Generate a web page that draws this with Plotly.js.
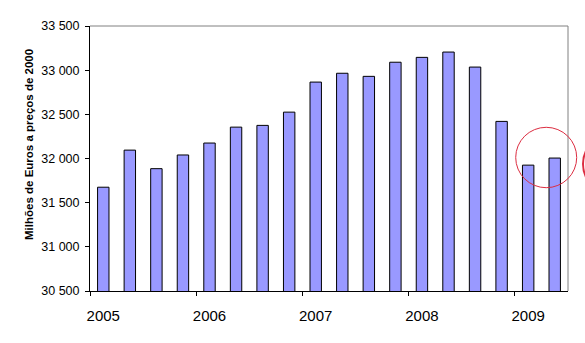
<!DOCTYPE html>
<html>
<head>
<meta charset="utf-8">
<script src="https://cdn.plot.ly/plotly-3.0.1.min.js"></script>
<style>html,body{margin:0;padding:0;background:#fff;}#chart{width:585px;height:343px;}</style>
</head>
<body>
<div id="chart"></div>
<script>
// Quarterly values, 2005 Q1 .. 2009 Q2 (millions of euros, 2000 prices)
var quarters = ["2005T1","2005T2","2005T3","2005T4","2006T1","2006T2","2006T3","2006T4",
                "2007T1","2007T2","2007T3","2007T4","2008T1","2008T2","2008T3","2008T4",
                "2009T1","2009T2"];
var values = [31675, 32095, 31885, 32040, 32175, 32355, 32375, 32525,
              32865, 32965, 32930, 33090, 33145, 33205, 33035, 32420,
              31925, 32005];
var yearLabels = ["2005","2006","2007","2008","2009"];
var yTickVals = [30500, 31000, 31500, 32000, 32500, 33000, 33500];
var yTickText = ["30 500","31 000","31 500","32 000","32 500","33 000","33 500"];

var idx = quarters.map(function(q, i){ return i; });
var yearLabelPos = idx.filter(function(i){ return i % 4 === 0; });
var yearBoundaries = yearLabelPos.map(function(i){ return i - 0.5; });

var font = "Liberation Sans, Arial, sans-serif";

var data = [
  {
    type: "bar",
    x: idx,
    y: values,
    hovertext: quarters,
    hoverinfo: "text+y",
    textposition: "none",
    width: 0.43,
    marker: {color: "#9999ff", line: {color: "#000000", width: 1}},
    showlegend: false
  },
  {
    type: "scatter",
    mode: "markers",
    x: [yearBoundaries[0]],
    y: [null],
    xaxis: "x2",
    yaxis: "y",
    hoverinfo: "skip",
    showlegend: false
  }
];

var layout = {
  width: 585,
  height: 343,
  margin: {l: 90, r: 17, t: 26, b: 52, pad: 0},
  paper_bgcolor: "#ffffff",
  plot_bgcolor: "#ffffff",
  font: {family: font, color: "#000000"},
  xaxis: {
    range: [-0.5, quarters.length - 0.5],
    tickmode: "array",
    tickvals: yearLabelPos,
    ticktext: yearLabels,
    ticks: "",
    ticklabelstandoff: 11,
    showgrid: false,
    zeroline: false,
    showline: true,
    linecolor: "#000000",
    linewidth: 1,
    tickfont: {size: 15, family: font, color: "#000000"},
    fixedrange: true
  },
  xaxis2: {
    overlaying: "x",
    anchor: "y",
    side: "bottom",
    range: [-0.5, quarters.length - 0.5],
    tickmode: "array",
    tickvals: yearBoundaries,
    showticklabels: false,
    ticks: "outside",
    ticklen: 4,
    tickcolor: "#000000",
    tickwidth: 1,
    showgrid: false,
    zeroline: false,
    showline: false,
    fixedrange: true
  },
  yaxis: {
    range: [30500, 33500],
    tickmode: "array",
    tickvals: yTickVals,
    ticktext: yTickText,
    ticks: "outside",
    ticklen: 4,
    ticklabelstandoff: 3,
    tickcolor: "#000000",
    showgrid: false,
    zeroline: false,
    showline: true,
    linecolor: "#000000",
    linewidth: 1,
    tickfont: {size: 12.5, family: font, color: "#000000"},
    fixedrange: true
  },
  annotations: [
    {
      text: "<b>Milhões de Euros a preços de 2000</b>",
      xref: "paper", yref: "paper",
      x: -0.1276, y: 0.551,
      xanchor: "center", yanchor: "middle",
      textangle: -90,
      showarrow: false,
      font: {size: 11.5, family: font, color: "#000000"}
    }
  ],
  shapes: [
    {type: "line", xref: "paper", yref: "paper", x0: 0, x1: 1, y0: 1, y1: 1,
     line: {color: "#808080", width: 1}},
    {type: "line", xref: "paper", yref: "paper", x0: 1, x1: 1, y0: 0, y1: 1,
     line: {color: "#808080", width: 1}},
    {type: "circle", xref: "paper", yref: "paper",
     x0: 0.8906, x1: 1.0182, y0: 0.3898, y1: 0.6177,
     line: {color: "rgb(220,45,65)", width: 1}},
    {type: "circle", xref: "paper", yref: "paper",
     x0: 1.0314, x1: 1.157, y0: 0.366, y1: 0.5925,
     line: {color: "rgb(220,45,65)", width: 2}}
  ],
  bargap: 0.57,
  hovermode: "closest"
};

Plotly.newPlot("chart", data, layout, {displayModeBar: false, staticPlot: true});
</script>
</body>
</html>
